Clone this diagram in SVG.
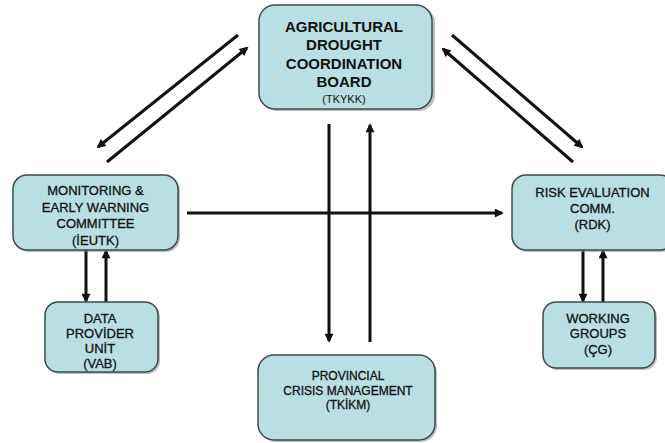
<svg xmlns="http://www.w3.org/2000/svg" width="665" height="443" viewBox="0 0 665 443">
  <defs>
    <style>
      .box { fill: #b9dfe2; stroke: #3d4b4c; stroke-width: 1.5; }
      .shadow { fill: #7f8c8d; opacity: 0.55; }
      .t { font-family: "Liberation Sans", Arial, sans-serif; fill: #111; text-anchor: middle; }
      .tb { font-weight: bold; font-size: 15px; }
      .tm { font-size: 13px; stroke: #111; stroke-width: 0.3; }
      .ts { font-size: 12px; stroke: #111; stroke-width: 0.3; }
      .conn line { stroke: #111; stroke-width: 3; fill: none; }
    </style>
    <marker id="arrow" viewBox="0 0 10 10" refX="8" refY="5" markerWidth="10" markerHeight="9" markerUnits="userSpaceOnUse" orient="auto">
      <path d="M0,0 L10,5 L0,10 z" fill="#111"/>
    </marker>
  </defs>

  <rect width="665" height="443" fill="#ffffff"/>

  <!-- connectors -->
  <g id="connectors" class="conn">
    <!-- board <-> monitoring committee -->
    <line x1="238" y1="35" x2="98" y2="147" marker-end="url(#arrow)"/>
    <line x1="107" y1="162" x2="247" y2="48" marker-end="url(#arrow)"/>
    <!-- board <-> risk evaluation -->
    <line x1="452" y1="35" x2="582" y2="147" marker-end="url(#arrow)"/>
    <line x1="573" y1="162" x2="443" y2="49" marker-end="url(#arrow)"/>
    <!-- board <-> provincial crisis management -->
    <line x1="329" y1="124" x2="329" y2="341" marker-end="url(#arrow)"/>
    <line x1="370" y1="342" x2="370" y2="125" marker-end="url(#arrow)"/>
    <!-- monitoring -> risk evaluation -->
    <line x1="187" y1="213" x2="502" y2="213" marker-end="url(#arrow)"/>
    <!-- monitoring <-> data provider -->
    <line x1="86" y1="250" x2="86" y2="301" marker-end="url(#arrow)"/>
    <line x1="106" y1="302" x2="106" y2="251" marker-end="url(#arrow)"/>
    <!-- risk evaluation <-> working groups -->
    <line x1="583" y1="250" x2="583" y2="301" marker-end="url(#arrow)"/>
    <line x1="603" y1="302" x2="603" y2="251" marker-end="url(#arrow)"/>
  </g>

  <g id="board">
    <rect class="shadow" x="261" y="7" width="174" height="104" rx="16"/>
    <rect class="box" x="259" y="5" width="173" height="104" rx="16"/>
    <text class="t tb" x="344" y="32">AGRICULTURAL</text>
    <text class="t tb" x="344" y="50">DROUGHT</text>
    <text class="t tb" x="344" y="69">COORDINATION</text>
    <text class="t tb" x="344" y="87">BOARD</text>
    <text class="t" x="344" y="103" font-size="11">(TKYKK)</text>
  </g>

  <g id="monitoring">
    <rect class="shadow" x="15" y="177" width="165" height="75" rx="14"/>
    <rect class="box" x="13" y="175" width="165" height="75" rx="14"/>
    <text class="t tm" x="95.5" y="195">MONITORING &amp;</text>
    <text class="t tm" x="95.5" y="212">EARLY WARNING</text>
    <text class="t tm" x="95.5" y="228">COMMITTEE</text>
    <text class="t tm" x="95.5" y="245">(İEUTK)</text>
  </g>

  <g id="risk">
    <rect class="shadow" x="514" y="177" width="162" height="75" rx="14"/>
    <rect class="box" x="512" y="175" width="162" height="75" rx="14"/>
    <text class="t tm" x="592.5" y="197">RISK EVALUATION</text>
    <text class="t tm" x="592.5" y="213">COMM.</text>
    <text class="t tm" x="592.5" y="229">(RDK)</text>
  </g>

  <g id="dataprovider">
    <rect class="shadow" x="47" y="304" width="113" height="70" rx="13"/>
    <rect class="box" x="45" y="302" width="113" height="70" rx="13"/>
    <text class="t tm" x="100" y="323">DATA</text>
    <text class="t tm" x="100" y="338">PROVİDER</text>
    <text class="t tm" x="100" y="353">UNİT</text>
    <text class="t tm" x="100" y="368">(VAB)</text>
  </g>

  <g id="workinggroups">
    <rect class="shadow" x="545" y="304" width="112" height="66" rx="13"/>
    <rect class="box" x="543" y="302" width="112" height="66" rx="13"/>
    <text class="t tm" x="598" y="323">WORKING</text>
    <text class="t tm" x="598" y="338">GROUPS</text>
    <text class="t tm" x="598" y="354">(ÇG)</text>
  </g>

  <g id="provincial">
    <rect class="shadow" x="260" y="357" width="177" height="85" rx="16"/>
    <rect class="box" x="258" y="355" width="177" height="85" rx="16"/>
    <text class="t ts" x="348" y="380">PROVINCIAL</text>
    <text class="t ts" x="348" y="395">CRISIS MANAGEMENT</text>
    <text class="t ts" x="348" y="409">(TKİKM)</text>
  </g>
</svg>
